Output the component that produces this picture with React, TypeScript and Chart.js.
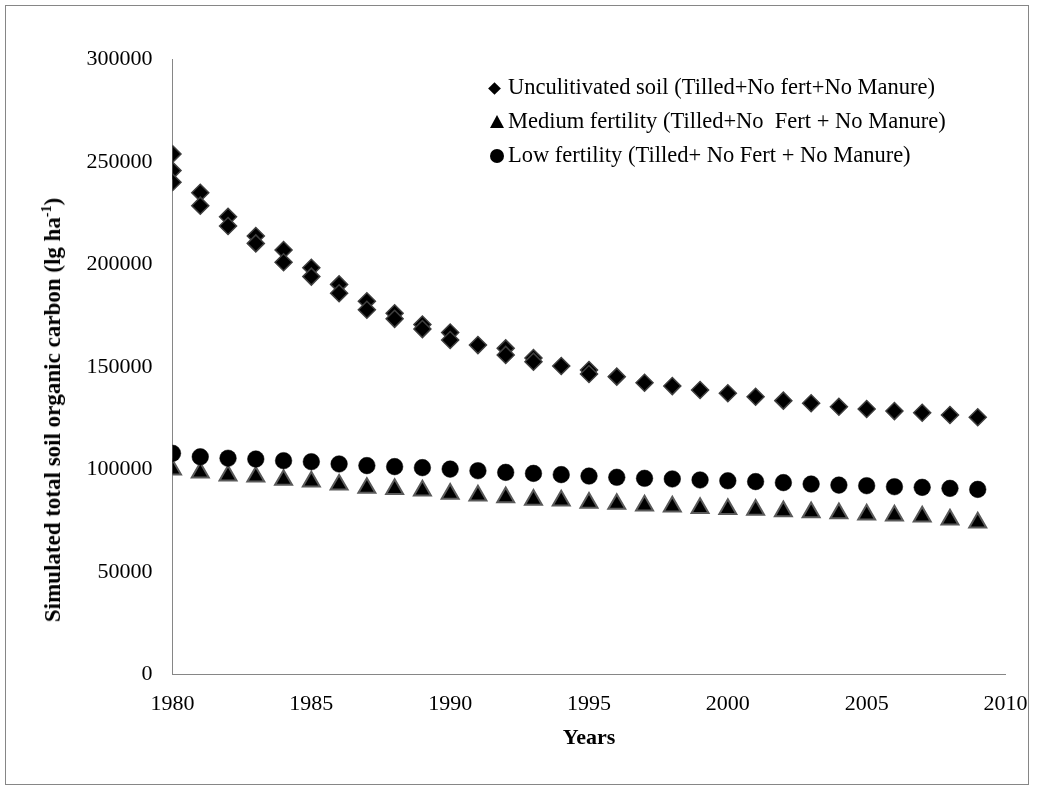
import React, { useEffect, useRef } from "react";
import { Chart, registerables } from "chart.js";

Chart.register(...registerables);

// ---- data ----
const uncultivatedYears = [
  1980, 1980, 1980, 1981, 1981, 1982, 1982, 1983, 1983, 1984, 1984, 1985, 1985,
  1986, 1986, 1987, 1987, 1988, 1988, 1989, 1989, 1990, 1990, 1991, 1992, 1992,
  1993, 1993, 1994, 1995, 1995, 1996, 1997, 1998, 1999, 2000, 2001, 2002, 2003,
  2004, 2005, 2006, 2007, 2008, 2009,
];
const uncultivatedValues = [
  253800, 245700, 240000, 234900, 228600, 223200, 218700, 213800, 210200, 207000,
  201000, 198300, 194000, 190200, 185900, 182000, 177800, 176100, 173400, 170600,
  168400, 166700, 163100, 160600, 159000, 155800, 154300, 152500, 150400, 148400,
  146500, 145200, 142200, 140600, 138700, 137100, 135400, 133500, 132200, 130500,
  129400, 128400, 127600, 126500, 125400,
];

const years = [
  1980, 1981, 1982, 1983, 1984, 1985, 1986, 1987, 1988, 1989, 1990, 1991, 1992,
  1993, 1994, 1995, 1996, 1997, 1998, 1999, 2000, 2001, 2002, 2003, 2004, 2005,
  2006, 2007, 2008, 2009,
];
const mediumValues = [
  99800, 98400, 96900, 96400, 94800, 94000, 92500, 90900, 90400, 89600, 88000,
  87200, 86300, 85100, 84700, 83600, 83100, 82300, 81800, 81100, 80600, 80200,
  79500, 79000, 78500, 77900, 77400, 76900, 75500, 74000,
];
const lowValues = [
  107800, 106100, 105400, 105000, 104200, 103700, 102600, 101800, 101300, 100800,
  100100, 99300, 98500, 98000, 97400, 96700, 96100, 95600, 95300, 94800, 94400,
  94000, 93500, 92800, 92300, 92000, 91500, 91200, 90700, 90200,
];

const seriesLabels = [
  "Unculitivated soil (Tilled+No fert+No Manure)",
  "Medium fertility (Tilled+No  Fert + No Manure)",
  "Low fertility (Tilled+ No Fert + No Manure)",
];
const legendShapes = ["diamond", "triangle", "circle"];

const xMin = 1980;
const xMax = 2010;
const xStep = 5;
const yMin = 0;
const yMax = 300000;
const yStep = 50000;

const SERIF = "'Liberation Serif', 'Times New Roman', serif";

function LegendMarker({ shape }: { shape: string }) {
  let inner: React.ReactNode = null;
  if (shape === "diamond") {
    inner = (
      <div
        style={{
          width: 9,
          height: 9,
          background: "#000",
          transform: "rotate(45deg)",
        }}
      />
    );
  } else if (shape === "triangle") {
    inner = (
      <div
        style={{
          width: 0,
          height: 0,
          borderLeft: "7px solid transparent",
          borderRight: "7px solid transparent",
          borderBottom: "13px solid #000",
          marginTop: -2,
        }}
      />
    );
  } else {
    inner = <div style={{ width: 14, height: 14, borderRadius: "50%", background: "#000" }} />;
  }
  return (
    <span
      style={{
        display: "inline-flex",
        width: 18,
        height: 20,
        alignItems: "center",
        justifyContent: "flex-start",
        marginTop: 2,
      }}
    >
      {inner}
    </span>
  );
}

export default function App() {
  const canvasRef = useRef<HTMLCanvasElement | null>(null);

  useEffect(() => {
    const canvas = canvasRef.current;
    if (!canvas) return;
    const chart = new Chart(canvas, {
      type: "scatter",
      data: {
        datasets: [
          {
            label: seriesLabels[0],
            data: uncultivatedYears.map((x, i) => ({ x, y: uncultivatedValues[i] })),
            pointStyle: "rectRot",
            pointRadius: 8.5,
            backgroundColor: "#000000",
            borderColor: "#3f3f3f",
            borderWidth: 1.5,
            order: 3,
          },
          {
            label: seriesLabels[1],
            data: years.map((x, i) => ({ x, y: mediumValues[i] })),
            pointStyle: "triangle",
            pointRadius: 9.8,
            backgroundColor: "#000000",
            borderColor: "#5a5a5a",
            borderWidth: 2,
            order: 2,
          },
          {
            label: seriesLabels[2],
            data: years.map((x, i) => ({ x, y: lowValues[i] })),
            pointStyle: "circle",
            pointRadius: 8.3,
            backgroundColor: "#000000",
            borderColor: "#000000",
            borderWidth: 0.5,
            order: 1,
          },
        ],
      },
      options: {
        animation: false,
        responsive: false,
        layout: { padding: { left: 0, right: 31.5, top: 59.3, bottom: 0 } },
        plugins: {
          legend: { display: false },
          tooltip: { enabled: false },
        },
        scales: {
          x: {
            type: "linear",
            min: xMin,
            max: xMax,
            afterFit: (s: any) => {
              s.height = 117.7;
              s.paddingLeft = 0;
              s.paddingRight = 0;
            },
            grid: { display: false, drawTicks: false },
            border: { display: true, color: "#868686", width: 1 },
            ticks: {
              stepSize: xStep,
              padding: 17,
              color: "#000000",
              font: { family: SERIF, size: 22 },
              callback: (v: any) => String(v),
              maxRotation: 0,
              autoSkip: false,
            },
            title: {
              display: true,
              text: "Years",
              color: "#000000",
              font: { family: SERIF, size: 22, weight: "bold" },
              padding: { top: 0, bottom: 40 },
            },
          },
          y: {
            type: "linear",
            min: yMin,
            max: yMax,
            afterFit: (s: any) => {
              s.width = 172.5;
              s.paddingTop = 0;
              s.paddingBottom = 0;
            },
            grid: { display: false, drawTicks: false },
            border: { display: true, color: "#868686", width: 1 },
            ticks: {
              stepSize: yStep,
              padding: 20,
              color: "#000000",
              font: { family: SERIF, size: 22 },
              callback: (v: any) => String(v),
            },
          },
        },
      },
    });
    return () => chart.destroy();
  }, []);

  return (
    <div style={{ position: "absolute", left: 0, top: 0, width: 1037, height: 792, background: "#ffffff" }}>
      <div
        style={{
          position: "absolute",
          left: 5,
          top: 5,
          width: 1024,
          height: 780,
          border: "1px solid #868686",
          boxSizing: "border-box",
        }}
      />
      <canvas
        ref={canvasRef}
        width={1037}
        height={792}
        style={{ position: "absolute", left: 0, top: 0, width: 1037, height: 792, display: "block" }}
      />
      <div
        style={{
          position: "absolute",
          left: 53,
          top: 410,
          transform: "translate(-50%, -50%) rotate(-90deg)",
          whiteSpace: "nowrap",
          fontFamily: SERIF,
          fontWeight: "bold",
          fontSize: 23,
          color: "#000",
          lineHeight: "26px",
        }}
      >
        Simulated total soil organic carbon (lg ha<sup style={{ fontSize: 14, lineHeight: 0 }}>-1</sup>)
      </div>
      <div
        style={{
          position: "absolute",
          left: 490,
          top: 70,
          fontFamily: SERIF,
          fontSize: 22.5,
          color: "#000",
          lineHeight: "34px",
          whiteSpace: "pre",
        }}
      >
        {seriesLabels.map((t, i) => (
          <div key={i} style={{ height: 34, display: "flex", alignItems: "center" }}>
            <LegendMarker shape={legendShapes[i]} />
            <span>{t}</span>
          </div>
        ))}
      </div>
    </div>
  );
}
